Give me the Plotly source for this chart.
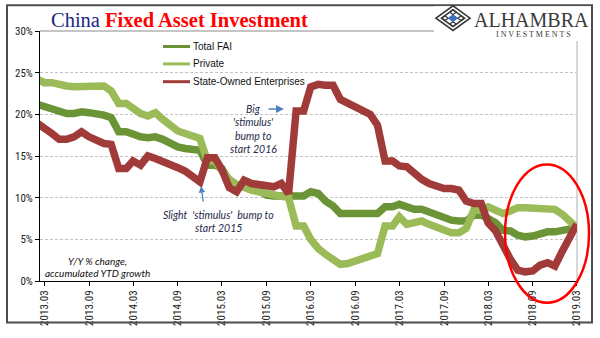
import plotly.graph_objects as go
import pandas as pd

# ---------------- data ----------------
months = pd.date_range("2013-02-01", "2019-03-01", freq="MS").strftime("%Y-%m-%d").tolist()

total_fai = [
    21.2, 20.9, 20.6, 20.4, 20.1, 20.1, 20.3, 20.2, 20.1, 19.9, 19.6,
    17.9, 17.9, 17.6, 17.3, 17.2, 17.3, 17.0, 16.5, 16.1, 15.9, 15.8, 15.7,
    13.9, 13.9, 13.5, 12.0, 11.4, 11.4, 11.2, 10.9, 10.3, 10.2, 10.2, 10.0,
    10.2, 10.2, 10.7, 10.5, 9.6, 9.0, 8.1, 8.1, 8.2, 8.3, 8.3, 8.1,
    8.9, 8.9, 9.2, 8.9, 8.6, 8.6, 8.3, 7.8, 7.5, 7.3, 7.2, 7.2,
    7.9, 7.9, 7.5, 7.0, 6.1, 6.0, 5.5, 5.3, 5.4, 5.7, 5.9, 5.9,
    6.1, 6.2, 6.4,
]
private = [
    24.2, 23.8, 23.8, 23.5, 23.4, 23.3, 23.3, 23.3, 23.4, 23.4, 22.8,
    21.3, 21.3, 20.6, 20.1, 19.8, 20.2, 19.4, 18.6, 18.0, 17.7, 17.4, 17.1,
    14.4, 14.4, 13.3, 12.2, 11.6, 11.2, 10.9, 10.7, 10.5, 10.4, 10.2, 10.0,
    6.6, 6.6, 5.0, 3.9, 3.2, 2.5, 2.0, 2.1, 2.4, 2.8, 3.1, 3.3,
    6.6, 6.6, 7.7, 6.8, 7.0, 7.2, 6.8, 6.4, 6.0, 5.8, 5.8, 6.3,
    8.5, 8.5, 8.9, 8.4, 8.1, 8.4, 8.8, 8.8, 8.8, 8.7, 8.7, 8.6,
    8.0, 7.2, 6.4,
]
soe = [
    18.9, 18.4, 17.7, 17.0, 17.0, 17.3, 17.9, 17.3, 16.8, 16.5, 16.4,
    13.5, 13.5, 14.4, 13.9, 15.0, 14.7, 14.4, 13.9, 13.6, 13.2, 12.6, 11.9,
    14.8, 14.8, 13.4, 11.2, 10.7, 12.1, 11.7, 11.6, 11.4, 11.3, 11.7, 10.5,
    20.4, 20.4, 23.3, 23.6, 23.5, 23.5, 21.8, 21.4, 21.0, 20.6, 20.0, 18.7,
    14.4, 14.4, 13.8, 13.7, 12.9, 12.2, 11.7, 11.3, 11.1, 11.1, 10.9, 9.6,
    9.3, 9.3, 7.0, 6.0, 4.2, 2.6, 1.3, 1.1, 1.2, 1.9, 2.2, 1.8,
    3.6, 5.2, 6.8,
]
series_names = ["Total FAI", "Private", "State-Owned Enterprises"]
series_colors = ["#6B9436", "#9BBB59", "#A03B39"]

x_tick_vals = pd.date_range("2013-03-01", "2019-03-01", freq="6MS").strftime("%Y-%m-%d").tolist()
x_tick_text = ["2013.03", "2013.09", "2014.03", "2014.09", "2015.03", "2015.09", "2016.03",
               "2016.09", "2017.03", "2017.09", "2018.03", "2018.09", "2019.03"]
y_tick_vals = [0, 5, 10, 15, 20, 25, 30]
y_tick_text = ["0%", "5%", "10%", "15%", "20%", "25%", "30%"]

# ---------------- layout geometry (pixels) ----------------
W, H = 600, 338
PL, PR, PT, PB = 40, 577, 31, 284


def px(x):
    return (x - PL) / (PR - PL)


def py(y):
    return (PB - y) / (PB - PT)


NARROW = "Liberation Sans Narrow, Arial Narrow, Roboto Condensed, DejaVu Sans Condensed, sans-serif"
ITAL = "Lato, Open Sans, sans-serif"

fig = go.Figure()
for name, vals, col in zip(series_names, [total_fai, private, soe], series_colors):
    fig.add_trace(go.Scatter(x=months, y=vals, mode="lines", name=name,
                             line=dict(color=col, width=7.5), showlegend=False))

shapes = []
annotations = []

# outer frame
shapes.append(dict(type="rect", xref="paper", yref="paper", x0=px(7), x1=px(592), y0=py(5), y1=py(326),
                   line=dict(color="#4d4d4d", width=2), layer="above"))
# top line of plot area (30%)
shapes.append(dict(type="line", xref="paper", yref="paper", x0=0, x1=px(436), y0=1, y1=1,
                   line=dict(color="#8c8c8c", width=1.2), layer="above"))
# right border of plot area
shapes.append(dict(type="line", xref="paper", yref="paper", x0=1, x1=1, y0=0, y1=1,
                   line=dict(color="#b0b0b0", width=1), layer="below"))
# white area behind logo
shapes.append(dict(type="rect", xref="paper", yref="paper", x0=px(434), x1=px(591), y0=py(6), y1=py(41),
                   fillcolor="white", line=dict(width=0), layer="above"))

# logo icon (diamond ornament)
cx, cy = 453, 18


def diamond(cx, cy, rx, ry):
    return f"M {px(cx - rx)} {py(cy)} L {px(cx)} {py(cy - ry)} L {px(cx + rx)} {py(cy)} L {px(cx)} {py(cy + ry)} Z"


shapes.append(dict(type="path", xref="paper", yref="paper", path=diamond(cx, cy, 17, 12.5),
                   line=dict(color="#3a3a3a", width=1.6), fillcolor="rgba(0,0,0,0)", layer="above"))
shapes.append(dict(type="path", xref="paper", yref="paper", path=diamond(cx, cy, 11.5, 8.5),
                   line=dict(color="#3a3a3a", width=1.6), fillcolor="rgba(0,0,0,0)", layer="above"))
for dx, dy in [(-8, 0), (8, 0), (0, -6), (0, 6)]:
    shapes.append(dict(type="path", xref="paper", yref="paper", path=diamond(cx + dx, cy + dy, 3.2, 2.4),
                       line=dict(color="#3a3a3a", width=1.2), fillcolor="rgba(0,0,0,0)", layer="above"))
shapes.append(dict(type="path", xref="paper", yref="paper", path=diamond(cx, cy, 4.5, 3.4),
                   line=dict(color="#2E64B0", width=1), fillcolor="#3D74C4", layer="above"))

annotations.append(dict(xref="paper", yref="paper", x=px(472), y=py(20), xanchor="left", yanchor="middle",
                        text="ALHAMBRA", showarrow=False,
                        font=dict(family="Liberation Serif, DejaVu Serif, serif", size=20, color="#3a3a3a")))
annotations.append(dict(xref="paper", yref="paper", x=px(533), y=py(35), xanchor="center", yanchor="middle",
                        text="I N V E S T M E N T S", showarrow=False,
                        font=dict(family="Liberation Serif, DejaVu Serif, serif", size=8, color="#3a3a3a")))

# title
annotations.append(dict(xref="paper", yref="paper", x=px(49), y=py(20), xanchor="left", yanchor="middle",
                        showarrow=False,
                        text="<span style='color:#1C2780'>China </span><b><span style='color:#FF0000'>Fixed Asset Investment</span></b>",
                        font=dict(family="Liberation Serif, DejaVu Serif, serif", size=20.5)))

# legend (manual)
legend_y = [46.7, 64.3, 82.3]
for name, col, ly in zip(series_names, series_colors, legend_y):
    shapes.append(dict(type="line", xref="paper", yref="paper", x0=px(163), x1=px(190), y0=py(ly), y1=py(ly),
                       line=dict(color=col, width=3), layer="above"))
    annotations.append(dict(xref="paper", yref="paper", x=px(191), y=py(ly), xanchor="left", yanchor="middle",
                            text=name, showarrow=False,
                            font=dict(family="Liberation Sans, Arial, sans-serif", size=10, color="#111")))

# red ellipse
shapes.append(dict(type="circle", xref="paper", yref="paper", x0=px(505), x1=px(589), y0=py(306), y1=py(166),
                   line=dict(color="#FF0000", width=2.5), layer="above"))

# text annotations
NAVY = "#1F2A4A"
big_lines = [("Big", 110), ("'stimulus'", 123), ("bump to", 137), ("start 2016", 150)]
for t, yy in big_lines:
    annotations.append(dict(xref="paper", yref="paper", x=px(253), y=py(yy), xanchor="center", yanchor="middle",
                            text=f"<i>{t}</i>", showarrow=False, font=dict(family=ITAL, size=10.5, color=NAVY)))
for t, yy in [("Slight  'stimulus'  bump to", 217), ("start 2015", 230.5)]:
    annotations.append(dict(xref="paper", yref="paper", x=px(218), y=py(yy), xanchor="center", yanchor="middle",
                            text=f"<i>{t}</i>", showarrow=False, font=dict(family=ITAL, size=10.5, color=NAVY)))
for t, yy in [("Y/Y % change,", 264), ("accumulated YTD growth", 275.5)]:
    annotations.append(dict(xref="paper", yref="paper", x=px(97), y=py(yy), xanchor="center", yanchor="middle",
                            text=f"<i>{t}</i>", showarrow=False, font=dict(family=ITAL, size=10, color="#111")))

# arrows
annotations.append(dict(xref="paper", yref="paper", x=px(284), y=py(110), ax=-17, ay=0, text="",
                        showarrow=True, arrowhead=2, arrowsize=1, arrowwidth=1.6, arrowcolor="#4F81BD"))
annotations.append(dict(xref="paper", yref="paper", x=px(201), y=py(188), ax=2.5, ay=17, text="",
                        showarrow=True, arrowhead=2, arrowsize=1, arrowwidth=1.3, arrowcolor="#4F81BD"))

fig.update_layout(
    width=W, height=H,
    margin=dict(l=PL, r=W - PR, t=PT, b=H - PB, pad=0),
    paper_bgcolor="white", plot_bgcolor="white",
    shapes=shapes, annotations=annotations,
    xaxis=dict(type="date", range=["2013-02-11", "2019-03-02"], tickvals=x_tick_vals, ticktext=x_tick_text,
               tickangle=-90, showgrid=False, zeroline=False, showline=True, linecolor="black", linewidth=1,
               ticks="outside", ticklen=4, tickcolor="black",
               tickfont=dict(family=NARROW, size=11, color="#222")),
    yaxis=dict(range=[0, 30], tickvals=y_tick_vals, ticktext=y_tick_text, showgrid=True,
               gridcolor="#c4c4c4", griddash="3px,2px", gridwidth=1, zeroline=False,
               showline=True, linecolor="black", linewidth=1, ticks="outside", ticklen=4, tickcolor="black",
               tickfont=dict(family=NARROW, size=11, color="#222")),
)

fig.write_html("out.html")
